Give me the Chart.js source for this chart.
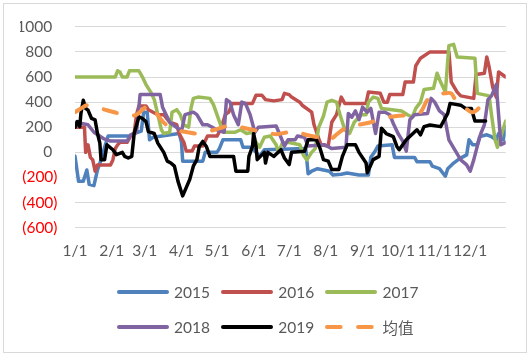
<!DOCTYPE html>
<html><head><meta charset="utf-8">
<script src="https://cdn.jsdelivr.net/npm/chart.js@4.4.1/dist/chart.umd.min.js"></script>
<style>
html,body{margin:0;padding:0;background:#fff;}
#wrap{position:relative;width:532px;height:356px;overflow:hidden;font-family:Lato,"Noto Sans CJK SC",sans-serif;}
#frame{position:absolute;left:3px;top:3px;width:524px;height:350px;border:1px solid #D9D9D9;box-sizing:border-box;}
#c{position:absolute;left:0;top:0;}
#legend{position:absolute;left:116.5px;top:275px;display:grid;grid-template-columns:repeat(3,104.3px);grid-auto-rows:34.4px;}
.item{display:flex;align-items:center;font-size:15.5px;color:#595959;white-space:nowrap;}
.item svg{margin-right:5.5px;flex:none;}
</style></head>
<body>
<div id="wrap">
<div id="frame"></div>
<canvas id="c" width="532" height="356"></canvas>
<div id="legend"></div>
</div>
<script>
// x tick positions (day of year) and labels
const monthTicks = [0,31,59,90,120,151,181,212,243,273,304,334];
const monthLabels = ['1/1','2/1','3/1','4/1','5/1','6/1','7/1','8/1','9/1','10/1','11/1','12/1'];
const seriesNames = ['2015','2016','2017','2018','2019','均值'];

const days2015 = [0,3,7,10,12,16,19,22,25,28,46,50,56,58,61,63,66,88,90,91,108,110,120,122,125,140,142,150,152,156,160,195,197,200,205,215,218,225,230,240,248,250,253,256,268,270,287,289,300,302,308,313,315,320,325,331,333,336,340,342,348,352,356,358,362,364];
const vals2015 = [-30,-230,-230,-140,-255,-265,-140,-60,40,130,130,150,170,320,320,100,120,150,80,-70,-70,0,0,30,100,100,40,40,10,-30,20,30,-170,-150,-130,-150,-180,-175,-165,-180,-180,-40,0,50,60,-40,-40,-75,-75,-110,-130,-190,-130,-85,-50,-20,100,60,60,125,140,125,100,150,100,200];

const days2016 = [0,8,9,11,13,15,17,19,30,32,34,36,38,44,47,50,52,54,60,62,70,75,80,86,88,92,94,99,101,108,110,112,120,123,127,130,133,150,153,158,161,168,175,177,181,183,190,192,200,202,206,208,214,217,221,225,228,246,248,258,261,264,266,277,279,286,288,292,300,316,318,323,326,337,339,346,348,350,353,356,358,364];
const vals2016 = [200,200,0,60,-40,-60,-150,-100,-100,-60,30,60,80,80,130,150,300,370,370,340,300,300,240,220,150,80,10,10,50,50,90,130,130,180,300,320,390,390,455,455,420,410,420,470,460,440,400,375,320,220,110,60,50,240,300,440,390,390,480,470,400,400,460,460,560,560,690,750,800,800,560,480,450,430,620,630,760,680,520,440,640,600];

const days2017 = [0,34,36,38,40,44,46,54,57,60,64,67,70,73,75,80,82,86,89,92,96,98,100,104,114,117,120,123,126,135,140,145,150,153,156,160,165,170,172,175,180,190,193,196,200,203,206,210,213,217,221,224,228,232,236,242,246,248,252,256,259,268,276,281,285,288,292,295,303,306,309,313,316,320,323,338,340,350,352,355,357,360,364];
const vals2017 = [600,600,650,640,600,600,650,650,600,540,480,420,300,180,150,160,320,340,300,220,200,350,430,440,430,380,300,220,160,160,180,150,160,80,40,120,130,60,0,70,80,60,-20,-60,0,30,200,290,400,415,400,300,180,150,240,300,300,400,440,430,350,340,330,300,280,350,400,500,510,630,560,480,850,860,760,750,470,450,300,100,40,130,250];

const days2018 = [0,11,16,24,30,44,47,52,55,72,74,77,80,90,93,100,103,108,112,120,126,128,131,134,138,141,144,148,152,155,170,174,177,180,186,188,194,197,211,217,229,231,234,237,240,243,247,250,254,257,262,266,269,273,277,280,283,287,298,301,304,308,312,316,321,326,331,334,337,340,343,346,349,352,356,358,360,364];
const vals2018 = [240,220,160,110,90,90,140,160,460,460,360,300,240,170,300,320,300,220,220,180,160,420,400,300,220,400,390,300,160,200,210,120,50,100,100,130,120,50,60,30,40,310,280,330,260,360,320,350,150,320,320,300,230,150,90,10,260,300,310,430,400,330,300,100,20,-60,-100,-150,-60,50,150,220,420,450,540,300,60,80];

const days2019 = [0,2,4,5,7,9,11,14,17,19,21,22,25,27,32,35,40,42,45,48,50,54,57,60,62,67,70,75,78,81,84,87,91,94,97,100,103,105,108,111,114,134,136,146,147,150,151,153,154,160,161,163,168,174,177,181,183,194,197,204,207,210,214,217,223,226,230,237,240,246,247,252,257,259,263,269,272,274,280,289,292,295,300,309,312,315,317,326,330,335,338,347];
const vals2019 = [200,245,205,310,415,350,336,270,258,150,74,-58,-58,60,21,-18,0,-32,-45,-32,150,284,270,245,165,150,74,0,-70,-85,-110,-229,-347,-281,-215,-110,-58,47,87,47,-32,-32,-150,-150,-32,47,150,47,-58,0,-85,0,-32,21,-45,-97,0,8,100,100,34,-58,-70,-137,-137,-32,60,60,0,-84,-163,-58,-32,192,150,126,47,21,100,180,140,205,218,205,258,310,390,376,350,350,250,250];

const daysAvg = [0,5,10,14,20,27,35,41,47,52,57,63,66,72,77,85,95,102,110,118,125,132,140,150,160,170,180,188,195,205,215,222,230,240,250,262,272,284,292,298,306,312,318,322,328,335,340,346,349];
const valsAvg = [320,350,375,370,355,335,315,300,290,300,340,380,350,270,220,180,160,150,160,180,200,215,200,180,160,145,160,165,140,120,100,150,200,220,240,275,290,300,320,420,460,470,470,410,370,320,340,410,420];

const yTicks = [-600,-400,-200,0,200,400,600,800,1000];

const colors = ['#4F81BD','#C0504D','#9BBB59','#8064A2','#000000','#F79646'];
const allDays = [days2015,days2016,days2017,days2018,days2019,daysAvg];
const allVals = [vals2015,vals2016,vals2017,vals2018,vals2019,valsAvg];

const FONT = 'Lato, "Noto Sans CJK SC", sans-serif';
Chart.defaults.font.family = FONT;
Chart.defaults.font.size = 15.5;

const datasets = seriesNames.map((name,i)=>({
  label: name,
  data: allDays[i].map((d,j)=>({x:d,y:allVals[i][j]})),
  borderColor: colors[i],
  backgroundColor: colors[i],
  borderWidth: i===5 ? 4 : 3.5,
  borderDash: i===5 ? [13.6,17.5] : [],
  borderCapStyle: 'round',
  borderJoinStyle: 'round',
  pointRadius: 0,
  pointHoverRadius: 0,
  tension: i===5 ? 0.3 : 0,
  fill: false,
  order: 6 - i
}));

new Chart(document.getElementById('c'), {
  type: 'line',
  data: { datasets },
  options: {
    responsive: false,
    animation: false,
    events: [],
    layout: { padding: { left: 20, right: 26.3, top: 25.3, bottom: 88.3 } },
    plugins: { legend: { display: false }, tooltip: { enabled: false } },
    scales: {
      x: {
        type: 'linear', min: 0, max: 364,
        grid: { display: false, drawTicks: false },
        border: { display: false },
        afterBuildTicks: (s) => { s.ticks = monthTicks.map(v=>({value:v})); },
        afterFit: (s) => { s.height = 40; },
        ticks: {
          autoSkip: false, maxRotation: 0, minRotation: 0, padding: 14,
          color: '#595959',
          callback: (v) => { const k = monthTicks.indexOf(v); return k>=0 ? monthLabels[k] : ''; }
        }
      },
      y: {
        min: -600, max: 1000,
        afterBuildTicks: (s) => { s.ticks = yTicks.map(v=>({value:v})); },
        afterFit: (s) => { s.width = 55; },
        grid: { color: '#D9D9D9', lineWidth: 1, drawTicks: false },
        border: { display: false },
        ticks: {
          padding: 17.5,
          color: (ctx) => ctx.tick && ctx.tick.value < 0 ? '#FF0000' : '#595959',
          callback: (v) => v < 0 ? '(' + Math.abs(v) + ')' : String(v) + '\u2004'
        }
      }
    }
  }
});

// legend
const leg = document.getElementById('legend');
seriesNames.forEach((name,i)=>{
  const dash = i===5 ? ' stroke-dasharray="13.6 17.5"' : '';
  const el = document.createElement('div');
  el.className = 'item';
  el.innerHTML = '<svg width="52" height="8"><line x1="2" y1="4" x2="50" y2="4" stroke="'+colors[i]+'" stroke-width="4" stroke-linecap="round"'+dash+'/></svg><span>'+name+'</span>';
  leg.appendChild(el);
});
</script>
</body></html>
